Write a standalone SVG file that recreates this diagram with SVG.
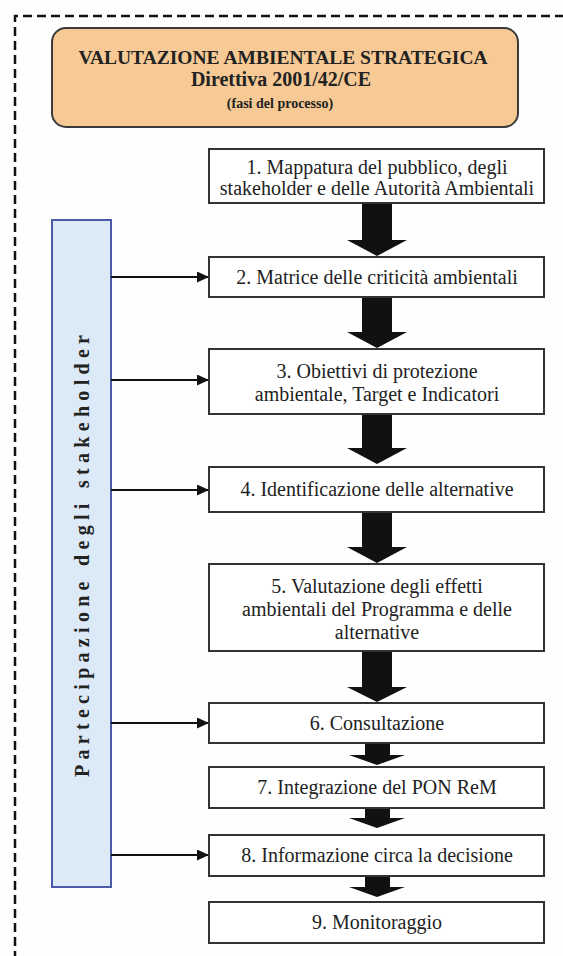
<svg xmlns="http://www.w3.org/2000/svg" width="563" height="956" viewBox="0 0 563 956">
<style>
.bg{fill:#fefefe}
.frame{fill:none;stroke:#111;stroke-width:2.5;stroke-dasharray:9 5}
.box{fill:#fff;stroke:#333;stroke-width:2}
.t{font-family:"Liberation Serif","Times New Roman",serif;font-size:20px;fill:#222;text-anchor:middle}
.title{font-family:"Liberation Serif","Times New Roman",serif;font-weight:bold;fill:#222;text-anchor:middle}
.blk{fill:#111}
.ln{stroke:#111;stroke-width:2;fill:none}
</style>
<defs>
<marker id="ah" markerWidth="12" markerHeight="11" refX="12" refY="5.5" orient="auto" markerUnits="userSpaceOnUse">
<path d="M0,0 L12,5.5 L0,11 Z" fill="#111"/>
</marker>
</defs>
<rect class="bg" x="0" y="0" width="563" height="956"/>
<path class="frame" d="M15,960 V16 H570"/>

<g id="title">
<rect x="52" y="28" width="466" height="99" rx="14" ry="14" fill="#F7CA95" stroke="#3a3a3a" stroke-width="2"/>
<text class="title" x="283" y="64" font-size="19.5">VALUTAZIONE AMBIENTALE STRATEGICA</text>
<text class="title" x="281" y="86" font-size="20">Direttiva 2001/42/CE</text>
<text class="title" x="280" y="108" font-size="14">(fasi del processo)</text>
</g>

<g id="stakeholder">
<rect x="52" y="220" width="59" height="667" fill="#DCEAF7" stroke="#4B5BA8" stroke-width="2"/>
<text x="89" y="777" transform="rotate(-90 89 777)" font-family="'Liberation Serif','Times New Roman',serif" font-weight="bold" font-size="20" fill="#222" textLength="442" lengthAdjust="spacing">Partecipazione degli stakeholder</text>
</g>

<g id="connectors">
<path class="blk" d="M362,203 H392 V240 H407 L377,256 L347,240 H362 Z"/>
<path class="blk" d="M362,297 H392 V332 H407 L377,348 L347,332 H362 Z"/>
<path class="blk" d="M362,414 H392 V448 H407 L377,464 L347,448 H362 Z"/>
<path class="blk" d="M362,512 H392 V547 H407 L377,563 L347,547 H362 Z"/>
<path class="blk" d="M362,651 H392 V687 H407 L377,702 L347,687 H362 Z"/>
<path class="blk" d="M365,743 H390 V755 H405 L377,765 L349,755 H365 Z"/>
<path class="blk" d="M365,808 H390 V818 H405 L377,828 L349,818 H365 Z"/>
<path class="blk" d="M365,876 H390 V887 H405 L377,897 L349,887 H365 Z"/>
<line class="ln" x1="111" y1="277" x2="209" y2="277" marker-end="url(#ah)"/>
<line class="ln" x1="111" y1="380" x2="209" y2="380" marker-end="url(#ah)"/>
<line class="ln" x1="111" y1="490" x2="209" y2="490" marker-end="url(#ah)"/>
<line class="ln" x1="111" y1="723" x2="209" y2="723" marker-end="url(#ah)"/>
<line class="ln" x1="111" y1="855" x2="209" y2="855" marker-end="url(#ah)"/>
</g>

<g id="n1">
<rect class="box" x="209" y="149" width="335" height="54"/>
<text class="t" x="377" y="174" font-size="19.5">1. Mappatura del pubblico, degli</text>
<text class="t" x="377" y="195" font-size="19.5">stakeholder e delle Autorità Ambientali</text>
</g>
<g id="n2">
<rect class="box" x="209" y="257" width="335" height="40"/>
<text class="t" x="377" y="284">2. Matrice delle criticità ambientali</text>
</g>
<g id="n3">
<rect class="box" x="209" y="349" width="335" height="65"/>
<text class="t" x="377" y="378">3. Obiettivi di protezione</text>
<text class="t" x="377" y="401">ambientale, Target e Indicatori</text>
</g>
<g id="n4">
<rect class="box" x="209" y="467" width="335" height="45"/>
<text class="t" x="377" y="496">4. Identificazione delle alternative</text>
</g>
<g id="n5">
<rect class="box" x="209" y="564" width="335" height="87"/>
<text class="t" x="377" y="593">5. Valutazione degli effetti</text>
<text class="t" x="377" y="616">ambientali del Programma e delle</text>
<text class="t" x="377" y="639">alternative</text>
</g>
<g id="n6">
<rect class="box" x="209" y="703" width="335" height="40"/>
<text class="t" x="377" y="730">6. Consultazione</text>
</g>
<g id="n7">
<rect class="box" x="209" y="767" width="335" height="41"/>
<text class="t" x="377" y="794">7. Integrazione del PON ReM</text>
</g>
<g id="n8">
<rect class="box" x="209" y="835" width="335" height="41"/>
<text class="t" x="377" y="862">8. Informazione circa la decisione</text>
</g>
<g id="n9">
<rect class="box" x="209" y="902" width="335" height="41"/>
<text class="t" x="377" y="929">9. Monitoraggio</text>
</g>
</svg>
